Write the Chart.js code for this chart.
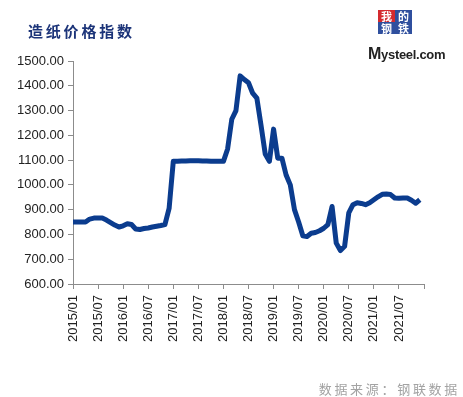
<!DOCTYPE html>
<html>
<head>
<meta charset="utf-8">
<script src="https://cdn.jsdelivr.net/npm/chart.js@4/dist/chart.umd.min.js"></script>
<style>
  body { margin: 0; background: #fff; }
  #wrap { position: relative; width: 463px; height: 397px; overflow: hidden; }
  #chart { position: absolute; left: 0; top: 0; }
  .title {
    position: absolute; left: 28px; top: 20px;
    font: bold 15px "Noto Sans CJK SC", sans-serif; letter-spacing: 2.8px;
    color: #1c3479;
  }
  .cell {
    position: absolute; width: 17px; height: 12px; color: #fff;
    font: bold 11px/12px "Noto Sans CJK SC", sans-serif; text-align: center;
  }
  .brand {
    position: absolute; left: 368px; top: 45px; color: #222;
    font: bold 13px "Liberation Sans", Arial, sans-serif; letter-spacing: -0.3px;
  }
  .brand b { font-size: 16px; }
  .source {
    position: absolute; right: 3px; top: 379px;
    font: 13px "Noto Sans CJK SC", sans-serif; letter-spacing: 2.7px; color: #a3a3a3;
  }
</style>
</head>
<body>
<div id="wrap">
  <canvas id="chart" width="463" height="397"></canvas>
  <div class="title">造纸价格指数</div>
  <div class="cell" style="left:378px;top:10px;background:#d42a2f">我</div>
  <div class="cell" style="left:395px;top:10px;background:#2f4f9e">的</div>
  <div class="cell" style="left:378px;top:22px;background:#2f4f9e">钢</div>
  <div class="cell" style="left:395px;top:22px;background:#2f4f9e">铁</div>
  <div class="brand"><b>M</b>ysteel.com</div>
  <div class="source">数据来源：钢联数据</div>
</div>
<script>
// months on the x axis
const years = ['2015', '2016', '2017', '2018', '2019', '2020', '2021'];
const months = ['01', '02', '03', '04', '05', '06', '07', '08', '09', '10', '11', '12'];

// paper price index, monthly
const values = [
  850, 850, 850, 850, 862, 866, 866, 866, 858, 848, 838, 830,           // 2015
  835, 843, 840, 822, 820, 824, 826, 830, 833, 836, 840, 905,           // 2016
  1095, 1095, 1096, 1096, 1097, 1097, 1097, 1096, 1096, 1095, 1095, 1095, // 2017
  1095, 1145, 1265, 1300, 1440, 1425, 1412, 1370, 1350, 1240, 1125, 1095, // 2018
  1225, 1108, 1108, 1040, 1000, 900, 850, 795, 792, 805, 808, 815,      // 2019
  825, 840, 913, 765, 735, 752, 887, 920, 928, 925, 920, 928,           // 2020
  940, 952, 962, 963, 961, 947, 946, 947, 947, 938, 926, 940            // 2021
];

const yMin = 600;
const yMax = 1500;
const yStep = 100;

let labels = [];
years.forEach(y => months.forEach(m => labels.push(y + '/' + m)));
labels.push('2022/01'); // axis runs to the end of 2021

const axisGrey = '#8c8c8c';
const tickFont = { family: '"Liberation Sans", Arial, sans-serif', size: 13 };

let ctx = document.getElementById('chart');

let paperChart = new Chart(ctx, {
  type: 'line',
  data: {
    labels: labels,
    datasets: [{
      data: values,
      borderColor: '#0b3c8e',
      borderWidth: 5,
      pointRadius: 0,
      tension: 0,
      borderJoinStyle: 'round',
      fill: false
    }]
  },
  options: {
    responsive: false,
    animation: false,
    devicePixelRatio: 1,
    layout: { padding: { left: 0, top: 61, right: 39, bottom: 0 } },
    plugins: { legend: { display: false }, tooltip: { enabled: false } },
    scales: {
      x: {
        offset: false,
        border: { display: true, color: axisGrey, width: 1 },
        grid: {
          drawOnChartArea: false,
          drawTicks: true,
          tickLength: 5,
          color: c => (c.index % 6 === 0 ? axisGrey : 'rgba(0,0,0,0)')
        },
        ticks: {
          autoSkip: false,
          maxRotation: 90,
          minRotation: 90,
          padding: 6,
          color: '#222',
          font: tickFont,
          callback: function (v, i) {
            return (i % 6 === 0 && i < labels.length - 1) ? labels[i] : '';
          }
        },
        afterFit: s => { s.height = 397 - 284 - 0; }
      },
      y: {
        min: yMin,
        max: yMax,
        border: { display: true, color: axisGrey, width: 1 },
        grid: { drawOnChartArea: false, drawTicks: true, tickLength: 5, color: axisGrey },
        ticks: {
          stepSize: yStep,
          padding: 4,
          color: '#222',
          font: tickFont,
          callback: v => v.toFixed(2)
        },
        afterFit: s => { s.width = 73; }
      }
    }
  }
});
</script>
</body>
</html>
